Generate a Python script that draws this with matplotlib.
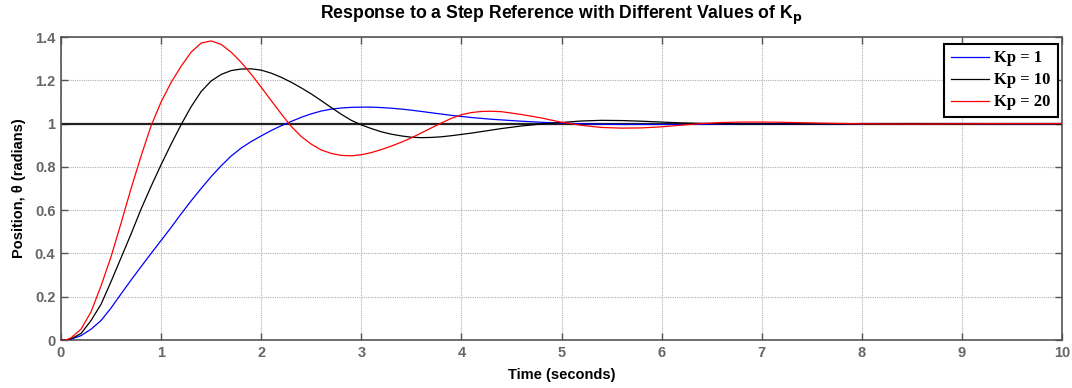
import matplotlib
matplotlib.use("Agg")
import matplotlib.pyplot as plt
import numpy as np

# Time samples (s) and read-off responses
t = [0.0, 0.05, 0.1, 0.2, 0.3, 0.4, 0.5, 0.6, 0.7, 0.8, 0.9, 1.0, 1.1, 1.2, 1.3, 1.4,
     1.5, 1.6, 1.7, 1.8, 1.9, 2.0, 2.1, 2.2, 2.3, 2.4, 2.5, 2.6, 2.7, 2.8, 2.9, 3.0,
     3.1, 3.2, 3.3, 3.4, 3.5, 3.6, 3.7, 3.8, 3.9, 4.0, 4.1, 4.2, 4.3, 4.4, 4.6, 4.8,
     5.0, 5.2, 5.4, 5.6, 5.8, 6.0, 6.2, 6.4, 6.6, 6.8, 7.0, 7.2, 7.4, 7.6, 8.0, 8.5,
     9.0, 9.5, 10.0]

kp1 = [0.0, 0.0, 0.004, 0.02, 0.05, 0.09, 0.148, 0.213, 0.277, 0.339, 0.40, 0.46, 0.52, 0.583, 0.643, 0.70,
       0.755, 0.805, 0.85, 0.887, 0.917, 0.943, 0.968, 0.99, 1.01, 1.029, 1.045, 1.058, 1.067, 1.072, 1.075, 1.076,
       1.076, 1.074, 1.071, 1.067, 1.062, 1.056, 1.05, 1.044, 1.038, 1.033, 1.028, 1.024, 1.02, 1.017, 1.011, 1.006,
       1.002, 0.999, 0.997, 0.996, 0.996, 0.996, 0.996, 0.997, 0.997, 0.998, 0.998, 0.999, 0.999, 0.999, 1.0, 1.0,
       1.0, 1.0, 1.0]

kp10 = [0.0, 0.0, 0.005, 0.03, 0.09, 0.165, 0.27, 0.38, 0.49, 0.605, 0.71, 0.81, 0.905, 0.995, 1.078, 1.148,
        1.197, 1.227, 1.245, 1.252, 1.253, 1.247, 1.233, 1.214, 1.191, 1.165, 1.137, 1.106, 1.074, 1.043, 1.015, 0.994,
        0.977, 0.962, 0.951, 0.943, 0.937, 0.935, 0.936, 0.939, 0.944, 0.950, 0.956, 0.963, 0.970, 0.977, 0.989, 0.998,
        1.005, 1.012, 1.015, 1.014, 1.011, 1.007, 1.003, 1.001, 0.999, 0.998, 0.998, 0.998, 0.999, 0.999, 1.0, 1.0,
        1.0, 1.0, 1.0]

kp20 = [0.0, 0.0, 0.01, 0.05, 0.13, 0.25, 0.385, 0.54, 0.70, 0.85, 0.99, 1.10, 1.19, 1.265, 1.33, 1.372,
        1.382, 1.366, 1.33, 1.283, 1.228, 1.168, 1.106, 1.045, 0.987, 0.94, 0.905, 0.878, 0.862, 0.853, 0.851, 0.856,
        0.866, 0.88, 0.896, 0.914, 0.934, 0.957, 0.98, 1.003, 1.024, 1.041, 1.051, 1.056, 1.057, 1.055, 1.042, 1.026,
        1.006, 0.992, 0.982, 0.979, 0.980, 0.985, 0.993, 1.0, 1.005, 1.007, 1.007, 1.006, 1.004, 1.002, 0.999, 0.998,
        0.999, 1.0, 1.0]

ref_t = [0.0, 10.0]
ref_y = [1.0, 1.0]

labels = ["Kp = 1", "Kp = 10", "Kp = 20"]
colors = ["#0000ff", "#000000", "#ff0000"]

xticks = list(range(0, 11))
yticks = [0, 0.2, 0.4, 0.6, 0.8, 1.0, 1.2, 1.4]
ytick_labels = ["0", "0.2", "0.4", "0.6", "0.8", "1", "1.2", "1.4"]

plt.rcParams['font.family'] = ['Liberation Sans', 'DejaVu Sans']

fig = plt.figure(figsize=(10.72, 3.88), dpi=100)
ax = fig.add_axes([0.0569, 0.1237, 0.9338, 0.7809])

ax.plot(ref_t, ref_y, color="#222222", lw=1.6, zorder=2)
for y, lab, c in zip([kp1, kp10, kp20], labels, colors):
    ax.plot(t, y, color=c, lw=0.9, label=lab, zorder=3)

ax.set_xlim(0, 10)
ax.set_ylim(0, 1.4)
ax.set_xticks(xticks)
ax.set_yticks(yticks)
ax.set_yticklabels(ytick_labels)
ax.grid(True, color="#b0b0b0", linestyle=(0, (1, 1)), linewidth=0.8)
ax.tick_params(direction="in", length=5, width=1.0, color="#555555",
               top=True, right=True, labelsize=10.5, labelcolor="#666666", pad=4)
for lbl in ax.get_xticklabels() + ax.get_yticklabels():
    lbl.set_fontweight("bold")
for s in ax.spines.values():
    s.set_color("#555555")
    s.set_linewidth(1.2)

ax.set_title(r"Response to a Step Reference with Different Values of K$_\mathbf{p}$",
             fontsize=12.7, fontweight="bold", pad=13)
ax.set_xlabel("Time (seconds)", fontsize=10.5, fontweight="bold", labelpad=6)
ax.set_ylabel("Position, θ (radians)", fontsize=10.5, fontweight="bold", labelpad=6)

leg = ax.legend(loc="upper right", prop={"family": "Liberation Serif", "weight": "bold", "size": 12},
                frameon=True, fancybox=False, edgecolor="black", framealpha=1,
                borderpad=0.4, labelspacing=0.36, handlelength=2.3, handletextpad=0.3,
                borderaxespad=0.0, bbox_to_anchor=(0.9955, 0.978))
leg.get_frame().set_linewidth(1.5)

fig.savefig("out.png", dpi=100)
